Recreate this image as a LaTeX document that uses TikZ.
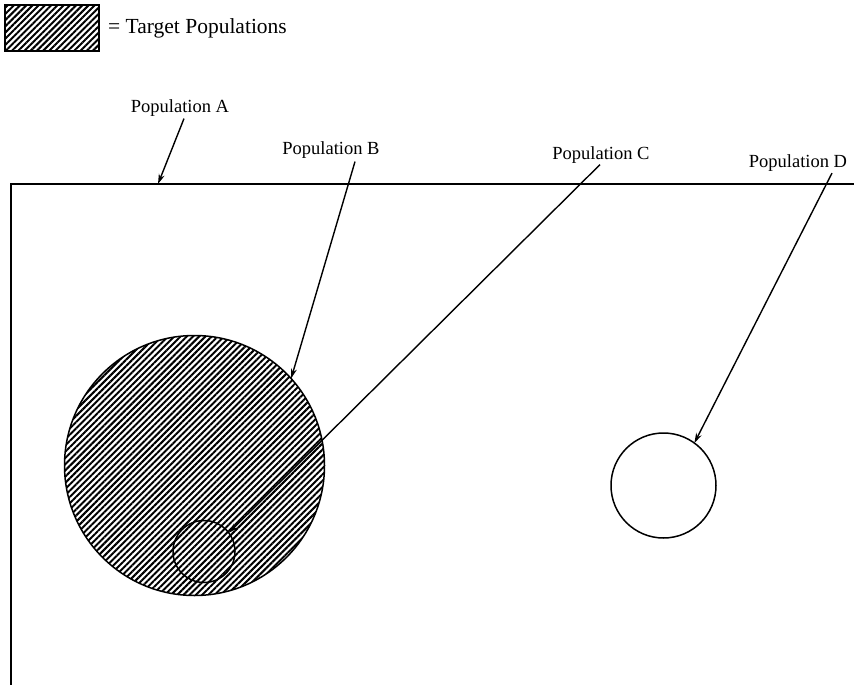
\documentclass[tikz,border=0pt]{standalone}
\usepackage{fontspec}
\setmainfont{Liberation Serif}
\usetikzlibrary{positioning}
\usetikzlibrary{calc}
\usetikzlibrary{arrows.meta,patterns.meta}
\begin{document}
\begin{tikzpicture}[x=1pt,y=-1pt,
  poplabel/.style={inner sep=0pt,font=\fontsize{18.5}{20}\selectfont},
  popcircle/.style={draw,circle,line width=1.5pt,outer sep=0pt,inner sep=0pt},
  hatched/.style={pattern={Lines[angle=45,distance=4.4pt,line width=2pt]}},
  popline/.style={line width=1.4pt,-{Stealth[length=10pt,width=6pt]}}]

  \useasboundingbox (0,0) rectangle (854,685);

  \node[draw,line width=1.5pt,hatched,minimum width=94pt,minimum height=46pt] (key) at (52,28) {};
  \node[poplabel,font=\fontsize{21.5}{23}\selectfont,right=8pt of key] (keytext) {= Target Populations};

  \draw[line width=1.5pt] (854,184) -| (11,685);
  \coordinate (atip) at (158,184);

  \node[poplabel] (popa) at (180,108) {Population A};
  \node[poplabel] (popb) at (331,150) {Population B};
  \node[poplabel] (popc) at (601,155) {Population C};
  \node[poplabel] (popd) at (798,163.5) {Population D};

  \node[popcircle,hatched,minimum size=260pt] (bcirc) at (194.5,465.5) {};
  \node[popcircle,minimum size=62pt] (ccirc) at (204,551.5) {};
  \node[popcircle,minimum size=105pt] (dcirc) at (663.5,485.5) {};

  \draw[popline] ($(popa.south)+(4,2)$) -- (atip);
  \draw[popline] ($(popb.south)+(24,3)$) -- (bcirc.42.5);
  \draw[popline] ($(popc.south)+(-1,1)$) -- (ccirc.37);
  \draw[popline] ($(popd.south)+(34,1)$) -- (dcirc.54);
\end{tikzpicture}
\end{document}
